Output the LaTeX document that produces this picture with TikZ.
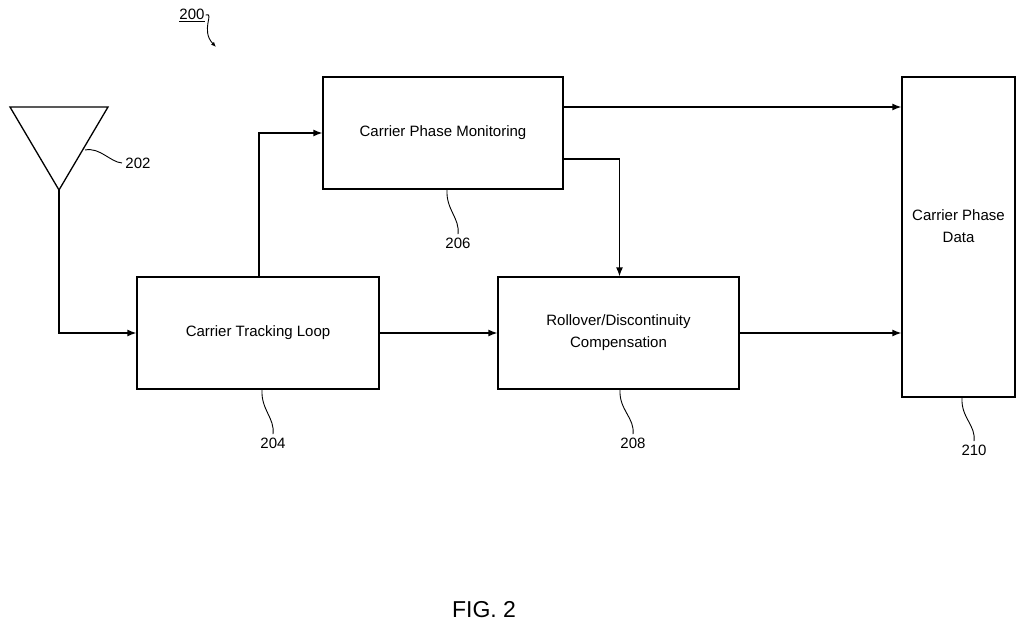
\documentclass[tikz,border=0pt]{standalone}
\usepackage{fontspec}
\setmainfont{Liberation Sans}
\usetikzlibrary{positioning,arrows.meta}
\begin{document}
\begin{tikzpicture}[x=1pt,y=-1pt,>={Latex[length=9pt,width=7pt]},
  blk/.style={draw,line width=1.3pt,align=center,font=\fontsize{15}{22}\selectfont},
  lbl/.style={font=\fontsize{15}{18}\selectfont},
  flow/.style={->,line width=1.3pt},
  lead/.style={line width=0.9pt}]
  \useasboundingbox (0,0) rectangle (1024,628);
  % antenna
  \draw[line width=1.3pt] (10,107) -- (108,107) -- (59,190) -- cycle;
  \coordinate (ant) at (59,190);
  % blocks
  \node[blk,minimum width=242,minimum height=112] (ctl) at (258,333) {Carrier Tracking Loop};
  \node[blk,minimum width=240,minimum height=112] (cpm) at (443,133) {Carrier Phase Monitoring};
  \node[blk,minimum width=241,minimum height=112] (rdc) at (618.5,333) {Rollover/Discontinuity\\Compensation};
  \node[blk,minimum width=113,minimum height=320,text depth=22] (cpd) at (958.5,237) {Carrier Phase\\Data};
  % flows
  \draw[flow] (ant) |- (ctl.west);
  \draw[flow] ([xshift=1]ctl.north) |- (cpm.west);
  \draw[flow] (ctl) -- (rdc);
  \draw[flow] (cpm.east |- 0,107) -- (cpd.west |- 0,107);
  \draw[flow] (cpm.east |- 0,159) -| ([xshift=1]rdc.north);
  \draw[flow] (rdc) -- (rdc -| cpd.west);
  % reference numerals
  \node[lbl] (n202) at (138,163) {202};
  \draw[lead] (n202.west) .. controls (110,162) and (100,147) .. (85,150);
  \node[lbl] (n206) at (458,243) {206};
  \draw[lead] (n206.north) .. controls (460,218) and (446,210) .. (447,190);
  \node[lbl] (n204) at (273,443) {204};
  \draw[lead] (n204.north) .. controls (275,418) and (261,410) .. (262,390);
  \node[lbl] (n208) at (633,443) {208};
  \draw[lead] (n208.north) .. controls (635,418) and (619,410) .. (620,390);
  \node[lbl] (n210) at (974,450) {210};
  \draw[lead] (n210.north) .. controls (976,425) and (961,418) .. (962,398);
  \node[lbl,inner sep=1] (n200) at (192,15) {\underline{200}};
  \coordinate (a200) at (216,47);
  \draw[lead,-{Latex[length=5pt,width=4pt]}] (n200.east) .. controls (215,12) and (200,30) .. (a200);
  \node[font=\fontsize{23}{26}\selectfont] (fig) at (484,610) {FIG. 2};
\end{tikzpicture}
\end{document}
